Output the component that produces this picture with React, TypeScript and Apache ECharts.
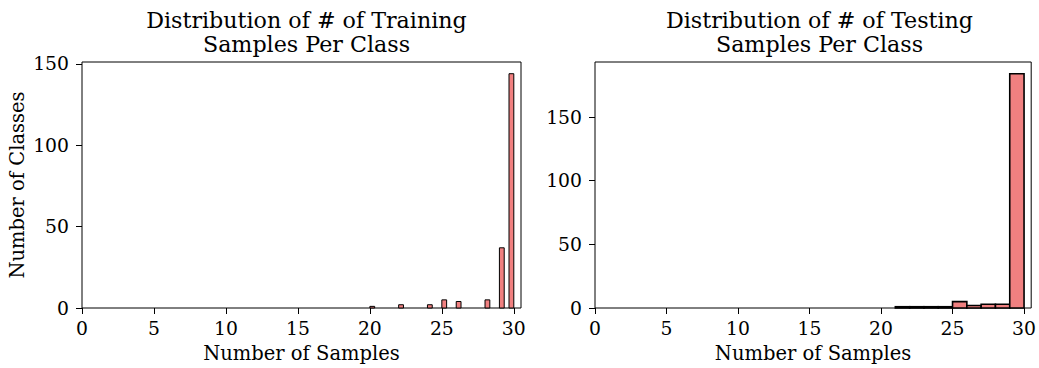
import React, { useEffect, useRef } from "react";
import * as echarts from "echarts";

// Training histogram: 30 bins of width 1/3 between 20 and 30
const trainBinLeft = [20, 22, 24, 25, 26, 28, 29, 29.6667];
const trainBinWidth = 1 / 3;
const trainCounts = [1, 2, 2, 5, 4, 5, 37, 144];

// Testing histogram: bins of width 1 between 21 and 30
const testBinLeft = [21, 22, 23, 24, 25, 26, 27, 28, 29];
const testBinWidth = 1;
const testCounts = [1, 1, 1, 1, 5, 2, 3, 3, 184];

const xTicks = [0, 5, 10, 15, 20, 25, 30];
const yTicks = [0, 50, 100, 150];

const titles = [
  "Distribution of # of Training\nSamples Per Class",
  "Distribution of # of Testing\nSamples Per Class",
];
const xName = "Number of Samples";
const yName = "Number of Classes";

const FONT = "DejaVu Serif";
const TICK_FS = 18.8;
const NAME_FS = 19.5;
const TITLE_FS = 22.2;

export default function App() {
  const ref = useRef<HTMLDivElement>(null);
  useEffect(() => {
    document.body.style.margin = "0";
    const chart = echarts.init(ref.current!, null, { renderer: "svg" });

    const mk = (lefts: number[], w: number, counts: number[]) =>
      lefts.map((l, i) => [l, l + w, counts[i]]);

    const xAxisBase = (gridIndex: number) => ({
      type: "value",
      gridIndex,
      min: 0,
      max: 30.5,
      name: xName,
      nameLocation: "middle",
      nameGap: 35,
      nameTextStyle: { fontFamily: FONT, fontSize: NAME_FS, color: "#000" },
      axisLine: { show: false },
      axisTick: {
        show: true,
        inside: false,
        length: 6,
        customValues: xTicks,
        lineStyle: { color: "#000", width: 1 },
      },
      axisLabel: {
        customValues: xTicks,
        margin: 11,
        fontFamily: FONT,
        fontSize: TICK_FS,
        color: "#000",
      },
      splitLine: { show: false },
    });

    const yAxisBase = (gridIndex: number, max: number, withName: boolean) => ({
      type: "value",
      gridIndex,
      min: 0,
      max,
      name: withName ? yName : "",
      nameLocation: "middle",
      nameGap: 55,
      nameTextStyle: { fontFamily: FONT, fontSize: NAME_FS, color: "#000" },
      axisLine: { show: false },
      axisTick: {
        show: true,
        inside: false,
        length: 6,
        customValues: yTicks,
        lineStyle: { color: "#000", width: 1 },
      },
      axisLabel: {
        customValues: yTicks,
        margin: 13,
        fontFamily: FONT,
        fontSize: TICK_FS,
        color: "#000",
      },
      splitLine: { show: false },
    });

    const renderHist = (lineWidth: number) => (params: any, api: any) => {
      const x0 = api.value(0);
      const x1 = api.value(1);
      const c = api.value(2);
      const p0 = api.coord([x0, c]);
      const p1 = api.coord([x1, 0]);
      return {
        type: "rect",
        shape: { x: p0[0], y: p0[1], width: p1[0] - p0[0], height: p1[1] - p0[1] },
        style: { fill: "#F08080", stroke: "#000", lineWidth },
      };
    };

    const titleStyle = {
      fontFamily: FONT,
      fontSize: TITLE_FS,
      fontWeight: "normal",
      color: "#000",
      lineHeight: 24,
    };

    chart.setOption({
      animation: false,
      title: [
        { text: titles[0], left: 301.5, top: 3, textAlign: "center", textStyle: titleStyle },
        { text: titles[1], left: 814.5, top: 3, textAlign: "center", textStyle: titleStyle },
      ],
      grid: [
        { left: 82, top: 62, width: 439, height: 250, show: true, borderColor: "#000", borderWidth: 1, backgroundColor: "transparent" },
        { left: 595, top: 62, width: 439, height: 250, show: true, borderColor: "#000", borderWidth: 1, backgroundColor: "transparent" },
      ],
      xAxis: [xAxisBase(0), xAxisBase(1)],
      yAxis: [yAxisBase(0, 151.2, true), yAxisBase(1, 193.2, false)],
      series: [
        {
          type: "custom",
          xAxisIndex: 0,
          yAxisIndex: 0,
          renderItem: renderHist(1),
          encode: { x: [0, 1], y: 2 },
          data: mk(trainBinLeft, trainBinWidth, trainCounts),
        },
        {
          type: "custom",
          xAxisIndex: 1,
          yAxisIndex: 1,
          renderItem: renderHist(1.6),
          encode: { x: [0, 1], y: 2 },
          data: mk(testBinLeft, testBinWidth, testCounts),
        },
      ],
    });
    return () => chart.dispose();
  }, []);
  return <div ref={ref} style={{ width: 1039, height: 368 }} />;
}
